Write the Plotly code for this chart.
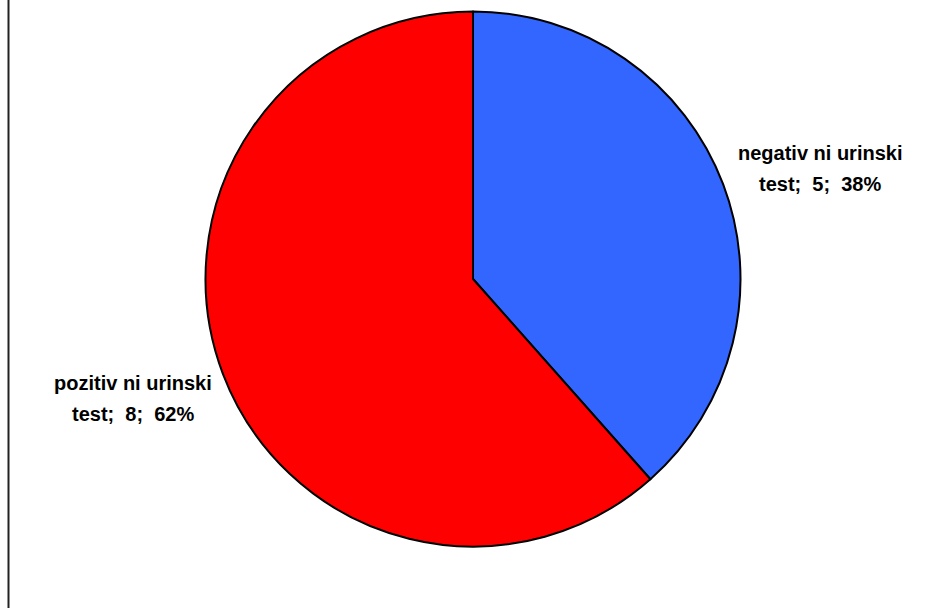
import plotly.graph_objects as go

labels = ["negativ ni urinski test", "pozitiv ni urinski test"]
label_line1 = ["negativ ni urinski", "pozitiv ni urinski"]
label_line2 = ["test", "test"]
values = [5, 8]
colors = ["#3366FF", "#FF0000"]

total = sum(values)
pcts = [round(v / total * 100) for v in values]

W, H = 932, 608
fig = go.Figure(go.Pie(
    labels=labels,
    values=values,
    sort=False,
    direction="clockwise",
    rotation=0,
    marker=dict(colors=colors, line=dict(color="black", width=2)),
    textinfo="none",
    hoverinfo="label+value+percent",
    showlegend=False,
    domain=dict(x=[205.5 / W, 740.5 / W], y=[1 - 546.5 / H, 1 - 11.5 / H]),
))

# label anchor positions (pixels): x center, y of first line, y of second line
label_pos = [(820, 153, 184), (133, 383, 414)]
sep = ";\u00a0 "
font = dict(family="Liberation Sans, Arial, sans-serif", size=20, color="black")
annotations = []
for l1, l2, v, p, (px, py1, py2) in zip(label_line1, label_line2, values, pcts, label_pos):
    for txt, py in ((l1, py1), (f"{l2}{sep}{v}{sep}{p}%", py2)):
        annotations.append(dict(
            x=px / W, y=1 - py / H, xref="paper", yref="paper",
            text=f"<b>{txt}</b>", showarrow=False, align="center",
            font=font, xanchor="center", yanchor="middle",
        ))

fig.update_layout(
    width=W, height=H,
    margin=dict(l=0, r=0, t=0, b=0),
    paper_bgcolor="white",
    plot_bgcolor="white",
    annotations=annotations,
    shapes=[dict(type="line", xref="paper", yref="paper",
                 x0=8.5 / W, x1=8.5 / W, y0=0, y1=1,
                 line=dict(color="#222222", width=2))],
)

fig.write_html("out.html")
